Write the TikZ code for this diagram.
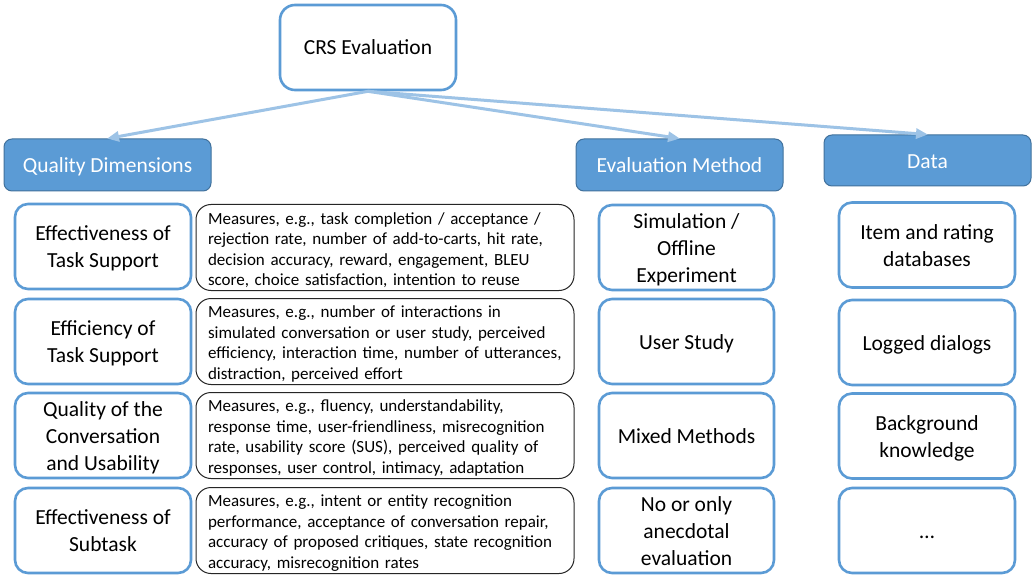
\documentclass[tikz,border=0pt]{standalone}
\usepackage{fontspec}
\setmainfont{Carlito}
\usetikzlibrary{arrows.meta}
\definecolor{hdrfill}{HTML}{5B9BD5}
\definecolor{hdrline}{HTML}{41719C}
\definecolor{boxline}{HTML}{5B9BD5}
\definecolor{arrowc}{HTML}{9DC3E6}
\tikzset{
  big/.style={font=\fontsize{21.5}{27}\selectfont},
  small/.style={font=\fontsize{17}{20.5}\selectfont},
  header/.style={draw=hdrline, line width=1pt, fill=hdrfill, text=white, rounded corners=8pt,
     minimum width=207pt, minimum height=52pt, inner sep=0pt, big, text depth=0pt, text height=16pt},
  bluebox/.style={draw=boxline, line width=2.6pt, fill=white, rounded corners=13pt,
     minimum width=176pt, minimum height=85pt, inner sep=0pt, align=center, big, text depth=6pt},
  one/.style={text height=21pt},
  two/.style={text height=48pt},
  three/.style={text height=75pt},
  textbox/.style={draw=black!85, line width=1pt, fill=white, rounded corners=15pt,
     minimum width=378pt, minimum height=86pt, inner xsep=12pt, inner ysep=0pt,
     text width=354pt, align=left, small, text height=17pt},
  conn/.style={draw=arrowc, line width=3pt, -{Triangle[length=12pt,width=10pt]}, shorten >=-0.5pt}
}
\begin{document}
\begin{tikzpicture}[x=1pt, y=-1pt]
\useasboundingbox (0,0) rectangle (1032,577);
\fill[white] (0,0) rectangle (1032,577);

\node[bluebox, one, rounded corners=15pt] (crs) at (368,47.5) {CRS Evaluation};

\node[header] (qd) at (107.5,165) {Quality Dimensions};
\node[header] (em) at (679.5,165) {Evaluation Method};
\node[header, minimum height=51pt] (data) at (927.5,160.5) {Data};

\draw[conn] (crs.south) -- (qd.north);
\draw[conn] (crs.south) -- (em.north);
\draw[conn] (crs.south) -- (data.north);

% left column
\node[bluebox, two] (q1) at (103,246.5) {Effectiveness of\\Task Support};
\node[bluebox, two] (q2) at (103,341.5) {Efficiency of\\Task Support};
\node[bluebox, three] (q3) at (103,435.5) {Quality of the\\Conversation\\and Usability};
\node[bluebox, two] (q4) at (103,530.5) {Effectiveness of\\Subtask};

% measures
\node[textbox] (m1) at (385,247.5) {Measures, e.g., task completion / acceptance /\\rejection rate, number of add-to-carts, hit rate,\\decision accuracy, reward, engagement, BLEU\\score, choice satisfaction, intention to reuse};
\node[textbox] (m2) at (385,341.5) {Measures, e.g., number of interactions in\\simulated conversation or user study, perceived\\efficiency, interaction time, number of utterances,\\distraction, perceived effort};
\node[textbox] (m3) at (385,435.5) {Measures, e.g., fluency, understandability,\\response time, user-friendliness, misrecognition\\rate, usability score (SUS), perceived quality of\\responses, user control, intimacy, adaptation};
\node[textbox] (m4) at (385,530.5) {Measures, e.g., intent or entity recognition\\performance, acceptance of conversation repair,\\accuracy of proposed critiques, state recognition\\accuracy, misrecognition rates};

% methods
\node[bluebox, three, minimum width=175pt] (e1) at (686.5,247.5) {Simulation /\\Offline\\Experiment};
\node[bluebox, one, minimum width=175pt] (e2) at (686.5,341.5) {User Study};
\node[bluebox, one, minimum width=175pt] (e3) at (686.5,435.5) {Mixed Methods};
\node[bluebox, three, minimum width=175pt] (e4) at (686.5,530.5) {No or only\\anecdotal\\evaluation};

% data
\node[bluebox, two] (d1) at (927,245) {Item and rating\\databases};
\node[bluebox, one] (d2) at (927,342.5) {Logged dialogs};
\node[bluebox, two] (d3) at (927,436) {Background\\knowledge};
\node[bluebox, one] (d4) at (927,530.5) {\dots};
\end{tikzpicture}
\end{document}
